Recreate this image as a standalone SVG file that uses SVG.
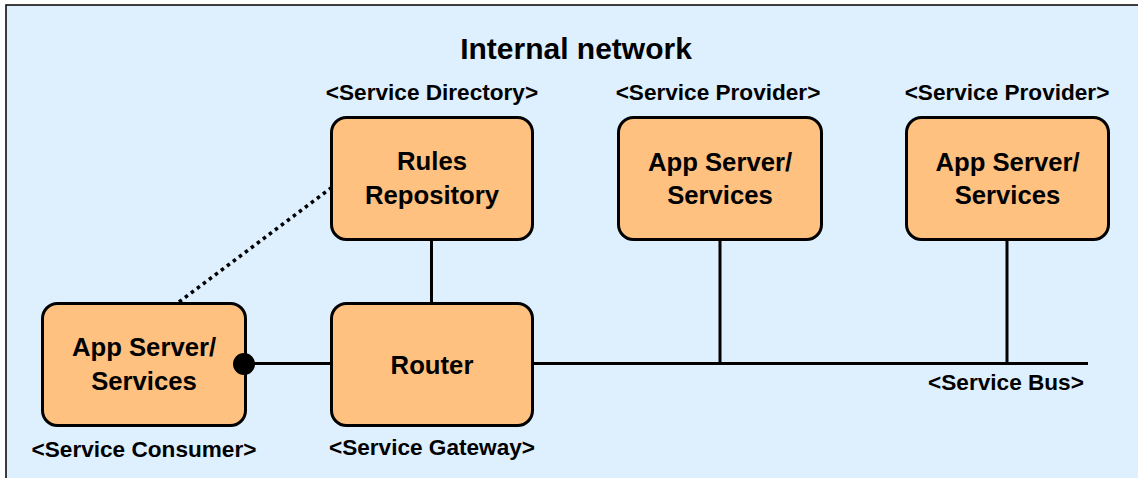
<svg xmlns="http://www.w3.org/2000/svg" width="1138" height="478" viewBox="0 0 1138 478">
<style>
.box{fill:#FFC17F;stroke:#000;stroke-width:3}
.bt{font-family:"Liberation Sans",Arial,sans-serif;font-weight:bold;font-size:25.7px;fill:#000;text-anchor:middle}
.lb{font-family:"Liberation Sans",Arial,sans-serif;font-weight:bold;font-size:22.6px;fill:#000;text-anchor:middle}
.ln{stroke:#000;stroke-width:3;fill:none}
</style>
<rect x="6" y="5" width="1140" height="480" fill="#DEEFFE" stroke="#000" stroke-width="1.5"/>
<text x="576" y="59" font-family="Liberation Sans, Arial, sans-serif" font-weight="bold" font-size="30" text-anchor="middle">Internal network</text>
<g id="consumer">
<rect class="box" x="42.5" y="303.5" width="203" height="122" rx="15"/>
<text class="bt" x="144" y="356">App Server/</text>
<text class="bt" x="144" y="390">Services</text>
<text class="lb" x="144" y="457">&lt;Service Consumer&gt;</text>
</g>
<g id="router">
<rect class="box" x="331.5" y="303.5" width="201" height="122" rx="15"/>
<text class="bt" x="432" y="374">Router</text>
<text class="lb" x="432" y="455">&lt;Service Gateway&gt;</text>
</g>
<g id="repository">
<rect class="box" x="331.5" y="117.5" width="201" height="122" rx="15"/>
<text class="bt" x="432" y="170">Rules</text>
<text class="bt" x="432" y="204">Repository</text>
<text class="lb" x="432" y="100">&lt;Service Directory&gt;</text>
</g>
<g id="provider1">
<rect class="box" x="618.5" y="117.5" width="203" height="122" rx="15"/>
<text class="bt" x="720" y="171">App Server/</text>
<text class="bt" x="720" y="204">Services</text>
<text class="lb" x="718" y="100">&lt;Service Provider&gt;</text>
</g>
<g id="provider2">
<rect class="box" x="906.5" y="117.5" width="202" height="122" rx="15"/>
<text class="bt" x="1007.5" y="171">App Server/</text>
<text class="bt" x="1007.5" y="204">Services</text>
<text class="lb" x="1007" y="100">&lt;Service Provider&gt;</text>
</g>
<g id="connectors">
<line x1="179" y1="302" x2="331" y2="188" stroke="#000" stroke-width="3.5" stroke-dasharray="3.5,4"/>
<line class="ln" x1="245" y1="363.5" x2="332" y2="363.5"/>
<line class="ln" x1="532" y1="363.5" x2="1088" y2="363.5"/>
<line class="ln" x1="431.5" y1="240" x2="431.5" y2="303"/>
<line class="ln" x1="720" y1="240" x2="720" y2="363.5"/>
<line class="ln" x1="1007" y1="240" x2="1007" y2="363.5"/>
<circle cx="244" cy="364" r="11" fill="#000"/>
<text class="lb" x="1006" y="390">&lt;Service Bus&gt;</text>
</g>
</svg>
